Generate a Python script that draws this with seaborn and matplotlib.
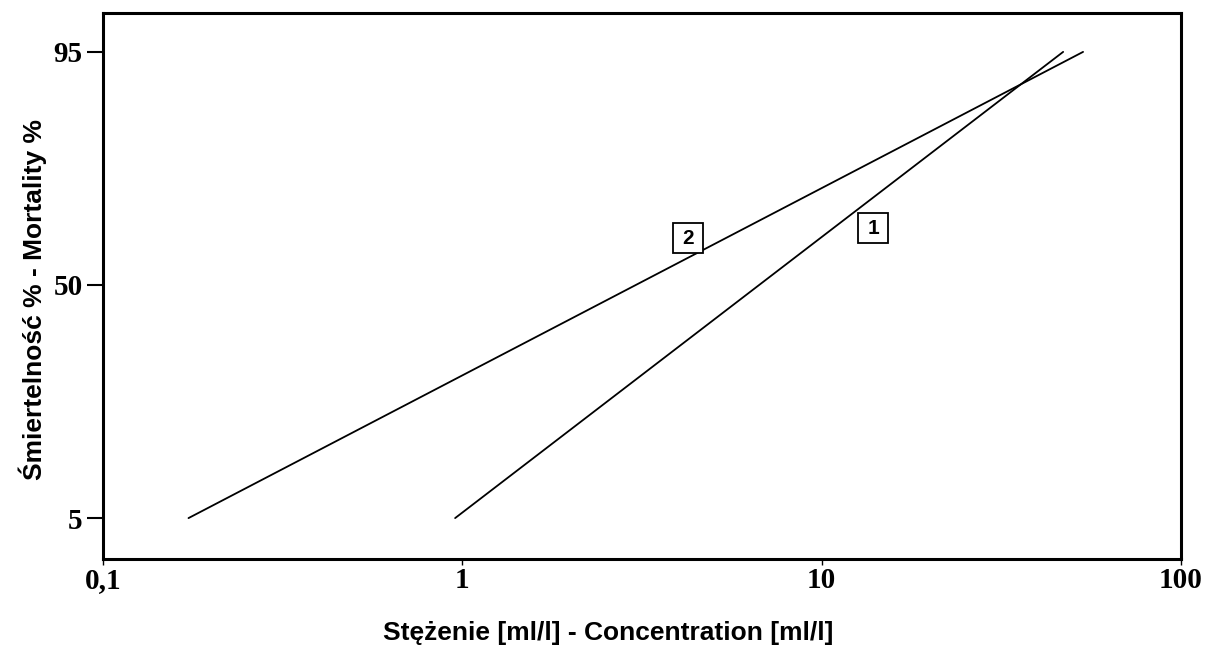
import numpy as np
import pandas as pd
import matplotlib
matplotlib.use("Agg")
import matplotlib.pyplot as plt
import seaborn as sns

# Data
line1_conc = [0.955, 47.0]
line1_mort = [5, 95]
line2_conc = [0.173, 53.4]
line2_mort = [5, 95]
label_names = ["1", "2"]
label_conc = [13.9, 4.25]
label_mort = [61, 59]
y_ticks = [5, 50, 95]
x_ticks = [0.1, 1, 10, 100]
x_ticklabels = ["0,1", "1", "10", "100"]

df = pd.DataFrame({
    "conc": line1_conc + line2_conc,
    "mort": line1_mort + line2_mort,
    "series": ["1"] * len(line1_conc) + ["2"] * len(line2_conc),
})

sns.set_theme(style="white")
plt.rcParams['font.family'] = ['Liberation Sans', 'DejaVu Sans']

fig = plt.figure(figsize=(12.17, 6.52), dpi=100)
ax = fig.add_axes([0.0846, 0.1426, 0.8858, 0.8374])

sns.lineplot(data=df, x="conc", y="mort", units="series", estimator=None,
             color="black", linewidth=1.3, ax=ax, legend=False)

ax.set_xscale("log")
ax.set_xlim(0.1, 100)
ax.set_ylim(-2.9, 102.5)

ax.set_xticks(x_ticks)
ax.set_xticklabels(x_ticklabels)
ax.xaxis.set_minor_locator(matplotlib.ticker.NullLocator())
ax.set_yticks(y_ticks)
ax.set_yticklabels([str(v) for v in y_ticks])

for lab in ax.get_xticklabels() + ax.get_yticklabels():
    lab.set_fontfamily("Liberation Serif")
    lab.set_fontweight("bold")
    lab.set_fontsize(21)
    lab.set_color("black")

ax.tick_params(axis="x", length=4, width=1, color="black", direction="out", bottom=True, pad=1.5)
ax.tick_params(axis="y", length=11.5, width=1.5, color="black", direction="out", left=True, pad=3)

for s in ax.spines.values():
    s.set_color("black")
    s.set_linewidth(2.2)

ax.set_xlabel("")
ax.set_ylabel("")
fig.text(0.5, 12 / 652, "Stężenie [ml/l] - Concentration [ml/l]", fontsize=19,
         fontweight="bold", color="black", ha="center", va="baseline")
fig.text(33 / 1217, 1 - 300 / 652, "Śmiertelność % - Mortality %", fontsize=19,
         fontweight="bold", color="black", ha="center", va="center", rotation=90)

# numbered square labels
ax.plot(label_conc, label_mort, linestyle="none", marker="s", markersize=22,
        markerfacecolor="white", markeredgecolor="black", markeredgewidth=1.3, zorder=5)
for name, xc, yc in zip(label_names, label_conc, label_mort):
    ax.text(xc, yc, name, ha="center", va="center", fontsize=15, fontweight="bold",
            color="black", zorder=6)

fig.savefig("out.png", dpi=100)
